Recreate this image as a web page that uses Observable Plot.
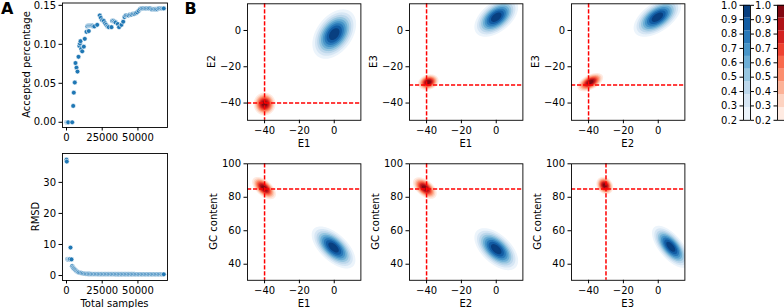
<!DOCTYPE html>
<html><head><meta charset="utf-8">
<script src="https://cdn.jsdelivr.net/npm/d3@7"></script>
<script src="https://cdn.jsdelivr.net/npm/@observablehq/plot@0.6"></script>
<style>
html,body{margin:0;padding:0;background:#fff;}
#root{position:relative;width:784px;height:308px;overflow:hidden;font-family:"DejaVu Sans",sans-serif;}
</style></head><body><div id="root"></div>
<script>
// ---------- Panel A data ----------
const acceptedSamples = [
  0, 300, 600, 900, 1200, 4000, 4700, 5100, 5800, 6300,
  7000, 7700, 8400, 9000, 9400, 9800, 10300, 11000, 12100, 12800,
  14000, 14600, 15300, 15600, 16000, 16700, 17400, 18100, 18800, 19500,
  21500, 23300, 24000, 25000, 26100, 27000, 27800, 28700, 29600, 31500,
  32000, 32800, 33600, 34400, 35900, 36800, 38500, 39700, 40600, 41500,
  42500, 43500, 44500, 45500, 46500, 47500, 48500, 49500, 50500, 51500,
  52500, 53500, 54500, 55500, 56500, 57500, 58500, 59500, 60500, 61500,
  62500, 63500, 64500, 65500, 66500, 67500, 68100];
const acceptedPct = [
  0, 0, 0, 0, 0, 0.000, 0.021, 0.038, 0.051, 0.076,
  0.070, 0.065, 0.084, 0.098, 0.101, 0.104, 0.094, 0.091, 0.097, 0.107,
  0.116, 0.123, 0.124, 0.117, 0.124, 0.124, 0.124, 0.124, 0.123, 0.123,
  0.125, 0.137, 0.134, 0.131, 0.130, 0.127, 0.125, 0.123, 0.122, 0.122,
  0.130, 0.130, 0.129, 0.128, 0.126, 0.122, 0.125, 0.129, 0.135, 0.137,
  0.137, 0.137, 0.138, 0.138, 0.139, 0.139, 0.140, 0.141, 0.143, 0.145,
  0.146, 0.146, 0.146, 0.146, 0.146, 0.146, 0.146, 0.145, 0.145, 0.145,
  0.145, 0.145, 0.146, 0.146, 0.146, 0.146, 0.146];
const rmsdSamples = [
  0, 200, 600, 1000, 1500, 2000, 2400, 2800, 3500, 4000,
  4500, 5000, 5600, 6300, 7000, 7800, 8500, 9500, 10500, 11500,
  12500, 13500, 14500, 15500, 16500, 17500, 18500, 19500, 20500, 21500,
  22500, 23500, 24500, 25500, 26500, 27500, 28500, 29500, 30500, 31500,
  32500, 33500, 34500, 35500, 36500, 37500, 38500, 39500, 40500, 41500,
  42500, 43500, 44500, 45500, 46500, 47500, 48500, 49500, 50500, 51500,
  52500, 53500, 54500, 55500, 56500, 57500, 58500, 59500, 60500, 61500,
  62500, 63500, 64500, 65500, 66500, 67500, 68100];
const rmsdValues = [
  37.3, 36.7, 5.3, 5.2, 5.1, 5.2, 5.3, 9.0, 5.2, 3.0,
  2.6, 2.3, 2.0, 1.7, 1.4, 1.2, 1.0, 0.9, 0.8, 0.7,
  0.6, 0.55, 0.52, 0.5, 0.49, 0.48, 0.47, 0.47, 0.46, 0.46,
  0.45, 0.45, 0.45, 0.44, 0.44, 0.44, 0.44, 0.43, 0.43, 0.43,
  0.43, 0.43, 0.42, 0.42, 0.42, 0.42, 0.42, 0.42, 0.41, 0.41,
  0.41, 0.41, 0.41, 0.41, 0.41, 0.41, 0.40, 0.40, 0.40, 0.40,
  0.40, 0.40, 0.40, 0.40, 0.40, 0.40, 0.40, 0.40, 0.40, 0.40,
  0.40, 0.40, 0.40, 0.40, 0.40, 0.40, 0.40];
const sampleTicks = [0, 25000, 50000];
const acceptedTicks = [0, 0.05, 0.10, 0.15];
const rmsdTicks = [0, 10, 20, 30];

// ---------- Panel B data ----------
const panelXVar = ["E1", "E1", "E2", "E1", "E2", "E3"];
const panelYVar = ["E2", "E3", "E3", "GC content", "GC content", "GC content"];
const blueMean = [[0, -2], [0, 7.3], [-0.5, 7.3], [-0.4, 50], [0, 49], [7.2, 50.4]];
const blueSd   = [[7, 7.6], [7, 6], [7.6, 6], [7, 7], [7, 7], [6, 7]];
const blueRho  = [0.4, 0.5, 0.55, -0.6, -0.55, -0.65];
const redMean  = [[-40, -40.5], [-39, -28.5], [-39, -28.5], [-40.3, 85.5], [-41, 85.5], [-30.7, 87]];
const redSd    = [[3.5, 3.5], [3.3, 2.4], [4.1, 2.8], [3.8, 3.7], [3.8, 3.6], [2.7, 2.9]];
const redRho   = [0, 0.2, 0.5, -0.55, -0.5, -0.2];
const truthX   = [-40, -40, -40, -40, -40, -30];
const truthY   = [-40, -30, -30, 85, 85, 85];
const eTicks   = [-40, -20, 0];
const gcTicks  = [40, 60, 80, 100];
const levels   = [0.2, 0.2889, 0.3778, 0.4667, 0.5556, 0.6444, 0.7333, 0.8222, 0.9111, 1.0];
const cbarTicks = [0.2, 0.3, 0.4, 0.5, 0.6, 0.7, 0.8, 0.9, 1.0];

// ---------- layout ----------
const root = document.getElementById("root");
function place(el, left, top) {
  el.style.position = "absolute"; el.style.left = left + "px"; el.style.top = top + "px";
  root.appendChild(el);
}
const baseStyle = {fontFamily: "DejaVu Sans", fontSize: "10px", color: "black", background: "transparent", overflow: "visible"};
const fmtInt = d3.format("d");

function scatterPanel(xs, ys, yDomain, yTicks, yFmt, top, frameTop, frameH, svgH) {
  const fl = 62, fw = 105;
  const p = Plot.plot({
    width: fl + fw + 10, height: svgH,
    marginLeft: fl, marginRight: 10, marginTop: frameTop, marginBottom: svgH - frameTop - frameH,
    style: baseStyle,
    x: {domain: [-2800, 70700]},
    y: {domain: yDomain},
    marks: [
      Plot.dot(xs, {x: xs, y: ys, r: 2.4, fill: "#1f77b4", stroke: "white", strokeWidth: 0.6}),
      Plot.frame({stroke: "black", strokeWidth: 0.9}),
      Plot.axisX({ticks: sampleTicks, tickFormat: fmtInt, tickSize: 3.5, tickPadding: 3, label: null}),
      Plot.axisY({ticks: yTicks, tickFormat: yFmt, tickSize: 3.5, tickPadding: 3, label: null})
    ]
  });
  place(p, 0, top);
}
scatterPanel(acceptedSamples, acceptedPct, [-0.0067, 0.153], acceptedTicks, d3.format(".2f"), 0, 2.5, 124.5, 145);
scatterPanel(rmsdSamples, rmsdValues, [-1.6, 39.3], rmsdTicks, fmtInt, 150, 3, 127, 158);

function gauss(m, s, rho) {
  return (x, y) => {
    const zx = (x - m[0]) / s[0], zy = (y - m[1]) / s[1];
    return Math.exp(-0.5 * (zx * zx - 2 * rho * zx * zy + zy * zy) / (1 - rho * rho));
  };
}
function bandColor(interp, v) {
  let i = 0;
  while (i < levels.length - 2 && v > levels[i] + 1e-6) i++;
  const mid = (levels[i] + levels[i + 1]) / 2;
  return interp((mid - levels[0]) / (levels[levels.length - 1] - levels[0]));
}

const frameLefts = [247.3, 409.1, 571];
const frameW = 113.4;
const xDom = [-49.8, 15.3];
function kdePanel(i) {
  const row = i < 3 ? 0 : 1, col = i % 3;
  const fl = frameLefts[col];
  const top = row === 0 ? 0 : 150;
  const svgH = row === 0 ? 150 : 158;
  const mT = row === 0 ? 3.3 : 13.3;
  const fh = 116.5;
  const yDom = row === 0 ? [-49.5, 14.7] : [30.4, 100];
  const p = Plot.plot({
    width: 45 + frameW + 8, height: svgH,
    marginLeft: 45, marginRight: 8, marginTop: mT, marginBottom: svgH - mT - fh,
    style: baseStyle,
    x: {domain: xDom},
    y: {domain: yDom},
    color: {type: "identity"},
    marks: [
      Plot.contour({
        value: gauss(blueMean[i], blueSd[i], blueRho[i]),
        x1: xDom[0], x2: xDom[1], y1: yDom[0], y2: yDom[1],
        thresholds: levels.slice(0, -1), pixelSize: 0.5,
        fill: (d) => bandColor(d3.interpolateBlues, d.value), stroke: "none"
      }),
      Plot.contour({
        value: gauss(redMean[i], redSd[i], redRho[i]),
        x1: xDom[0], x2: xDom[1], y1: yDom[0], y2: yDom[1],
        thresholds: levels.slice(0, -1), pixelSize: 0.5,
        fill: (d) => bandColor(d3.interpolateReds, d.value), stroke: "none"
      }),
      Plot.ruleX([truthX[i]], {stroke: "#ff0000", strokeWidth: 1.5, strokeDasharray: "4.2,1.8"}),
      Plot.ruleY([truthY[i]], {stroke: "#ff0000", strokeWidth: 1.5, strokeDasharray: "4.2,1.8"}),
      Plot.frame({stroke: "black", strokeWidth: 0.9}),
      Plot.axisX({ticks: eTicks, tickFormat: fmtInt, tickSize: 3.5, tickPadding: 3, label: null}),
      Plot.axisY({ticks: row === 0 ? eTicks : gcTicks, tickFormat: fmtInt, tickSize: 3.5, tickPadding: 3, label: null})
    ]
  });
  place(p, fl - 45, top);
}
for (let i = 0; i < 6; i++) kdePanel(i);

function colorbar(interp, left) {
  const bands = levels.slice(0, -1).map((lo, k) => ({lo, hi: levels[k + 1]}));
  const svgH = 130, mT = 4.8, fh = 115;
  const p = Plot.plot({
    width: 57, height: svgH, marginLeft: 50, marginRight: 0, marginTop: mT, marginBottom: svgH - mT - fh,
    style: baseStyle,
    x: {domain: [0, 1], axis: null},
    y: {domain: [0.2, 1]},
    color: {type: "identity"},
    marks: [
      Plot.rect(bands, {x1: 0, x2: 1, y1: "lo", y2: "hi", fill: (d) => bandColor(interp, d.lo)}),
      Plot.frame({stroke: "black", strokeWidth: 0.9}),
      Plot.axisY({anchor: "left", ticks: cbarTicks, tickFormat: d3.format(".1f"), tickSize: 3.5, tickPadding: 3, label: null}),
      Plot.axisY({anchor: "right", ticks: cbarTicks, tickFormat: () => "", tickSize: 3, label: null})
    ]
  });
  place(p, left, 0);
}
colorbar(d3.interpolateBlues, 693);
colorbar(d3.interpolateReds, 727);

// ---------- text overlay ----------
const ov = d3.select(root).append("svg")
  .attr("width", 784).attr("height", 308)
  .style("position", "absolute").style("left", "0px").style("top", "0px")
  .style("font-family", "DejaVu Sans").style("pointer-events", "none");
function txt(s, x, y, {rot = false, size = 10, weight = "normal", anchor = "middle"} = {}) {
  ov.append("text").attr("transform", `translate(${x},${y})` + (rot ? " rotate(-90)" : ""))
    .attr("text-anchor", anchor).attr("font-size", size).attr("font-weight", weight)
    .attr("fill", "black").text(s);
}
txt("A", 1, 13.5, {size: 16, weight: "bold", anchor: "start"});
txt("B", 184.5, 13.5, {size: 16, weight: "bold", anchor: "start"});
txt("Accepted percentage", 30, 64.5, {rot: true});
txt("RMSD", 38.5, 216.5, {rot: true});
txt("Total samples", 114.5, 306.5);
for (let i = 0; i < 6; i++) {
  const row = i < 3 ? 0 : 1, col = i % 3;
  const fl = frameLefts[col];
  const cx = fl + frameW / 2;
  txt(panelXVar[i], cx, row === 0 ? 146.7 : 306.5);
  const cy = row === 0 ? 3.3 + 116.5 / 2 : 13.3 + 150 + 116.5 / 2;
  txt(panelYVar[i], fl - (row === 0 ? 32.5 : 30), cy, {rot: true});
}
</script></body></html>
